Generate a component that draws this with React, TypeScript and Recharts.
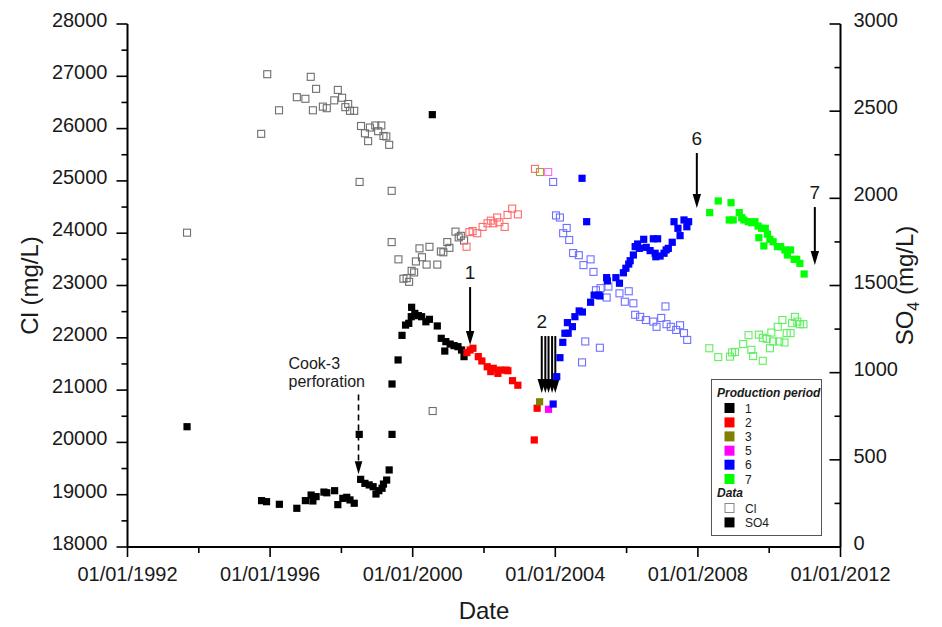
import { ScatterChart, Scatter, XAxis, YAxis, ReferenceLine, Legend } from 'recharts'

// [decimal year, value]
type Pt = [number, number]

const dateTicks = [1992, 1994, 1996, 1998, 2000, 2002, 2004, 2006, 2008, 2010, 2012]
const clTicks = [18000, 18500, 19000, 19500, 20000, 20500, 21000, 21500, 22000, 22500, 23000, 23500, 24000, 24500, 25000, 25500, 26000, 26500, 27000, 27500, 28000]
const so4Ticks = [0, 250, 500, 750, 1000, 1250, 1500, 1750, 2000, 2250, 2500, 2750, 3000]

const periods = ['1', '2', '3', '5', '6', '7']
const periodColors = ['#000000', '#ff0000', '#808000', '#ff00ff', '#0000ff', '#00ff00']
const clColors = ['#6e6e6e', '#ff6a6a', '#a0a040', '#ff66ff', '#6f6fff', '#5fef5f']

// Cl (mg/L)
const clP1: Pt[] = [
  [1993.67, 24010], [1995.75, 25900], [1995.92, 27040], [1996.25, 26350], [1996.75, 26600], [1996.99, 26570],
  [1997.14, 26990], [1997.29, 26760], [1997.2, 26350], [1997.48, 26420], [1997.59, 26390], [1997.8, 26540],
  [1997.9, 26740], [1998.02, 26590], [1998.11, 26410], [1998.19, 26470], [1998.24, 26340], [1998.36, 26340],
  [1998.51, 24980], [1998.55, 26050], [1998.66, 25910], [1998.75, 25760], [1998.8, 26020], [1998.95, 26060],
  [1999.03, 25950], [1999.12, 26060], [1999.18, 25860], [1999.26, 25850], [1999.34, 25690], [1999.41, 24810],
  [1999.41, 23830], [1999.6, 23500], [1999.74, 23130], [1999.83, 23140], [1999.9, 23070], [1999.97, 23280],
  [2000.04, 23250], [2000.09, 23460], [2000.19, 23710], [2000.26, 23540], [2000.39, 23400], [2000.47, 23740],
  [2000.56, 20600], [2000.69, 23400], [2000.79, 23650], [2000.86, 23635], [2000.97, 23830], [2001.03, 23720],
  [2001.2, 24030], [2001.29, 23920], [2001.35, 23950], [2001.44, 23860],
]
const clP2: Pt[] = [
  [2001.51, 23740], [2001.59, 24020], [2001.68, 24040], [2001.81, 24000], [2001.96, 24120], [2002.1, 24190],
  [2002.19, 24240], [2002.26, 24190], [2002.37, 24300], [2002.43, 24210], [2002.58, 24120], [2002.66, 24350],
  [2002.79, 24470], [2002.95, 24360], [2003.43, 25230],
]
const clP3: Pt[] = [[2003.57, 25170]]
const clP5: Pt[] = [[2003.8, 25170]]
const clP6: Pt[] = [
  [2003.94, 24980], [2004.02, 24340], [2004.13, 24300], [2004.32, 24100], [2004.22, 24000], [2004.39, 23870],
  [2004.5, 23620], [2004.66, 23580], [2004.79, 23390], [2004.99, 23500], [2005.07, 23260], [2005.14, 22910],
  [2005.27, 22950], [2005.49, 22980], [2005.44, 22770], [2005.8, 22850], [2005.95, 22690], [2006.06, 22890],
  [2006.19, 22660], [2006.24, 22440], [2006.38, 22400], [2006.54, 22340], [2006.75, 22310], [2006.84, 22210],
  [2006.97, 22380], [2007.09, 22600], [2007.12, 22260], [2007.24, 22210], [2007.39, 22150], [2007.5, 22240],
  [2007.61, 22090], [2007.7, 21960], [2004.84, 21930], [2005.25, 21810], [2004.75, 21530],
]
const clP7: Pt[] = [
  [2008.32, 21800], [2008.57, 21630], [2008.9, 21640], [2008.96, 21720], [2009.04, 21730], [2009.27, 21880],
  [2009.42, 22050], [2009.5, 21770], [2009.55, 21650], [2009.71, 22060], [2009.82, 22000], [2009.82, 21560],
  [2009.93, 21980], [2010.02, 21800], [2010.06, 22100], [2010.11, 21930], [2010.24, 22210], [2010.28, 21930],
  [2010.37, 22340], [2010.43, 21910], [2010.49, 22090], [2010.6, 22090], [2010.64, 22280], [2010.72, 22400],
  [2010.79, 22310], [2010.86, 22260], [2010.96, 22260],
]

// SO4 (mg/L)
const so4P1: Pt[] = [
  [1993.67, 690], [1995.76, 266], [1995.9, 260], [1996.26, 245], [1996.75, 222], [1996.99, 266], [1997.15, 298],
  [1997.2, 264], [1997.29, 289], [1997.51, 315], [1997.59, 311], [1997.81, 323], [1997.9, 243], [1998.04, 279],
  [1998.15, 285], [1998.24, 270], [1998.36, 251], [1998.5, 646], [1998.54, 388], [1998.66, 365], [1998.78, 356],
  [1998.89, 346], [1998.97, 304], [1999.05, 323], [1999.14, 337], [1999.18, 361], [1999.27, 384], [1999.34, 442],
  [1999.42, 646], [1999.42, 935], [1999.59, 1073], [1999.7, 1214], [1999.8, 1273], [1999.89, 1283], [1999.96, 1321],
  [1999.97, 1375], [2000.06, 1340], [2000.16, 1327], [2000.25, 1321], [2000.37, 1292], [2000.47, 1306],
  [2000.55, 2480], [2000.69, 1268], [2000.8, 1197], [2000.9, 1124], [2000.93, 1178], [2001.05, 1164],
  [2001.16, 1155], [2001.27, 1149], [2001.37, 1130], [2001.44, 1092],
]
const so4P2: Pt[] = [
  [2001.52, 1115], [2001.61, 1130], [2001.69, 1140], [2001.84, 1092], [2001.94, 1067], [2002.09, 1034],
  [2002.19, 1006], [2002.26, 1025], [2002.39, 996], [2002.45, 1015], [2002.62, 1015], [2002.67, 1011],
  [2002.8, 954], [2002.95, 928], [2003.49, 796], [2003.41, 614],
]
const so4P3: Pt[] = [[2003.56, 833]]
const so4P5: Pt[] = [[2003.81, 790]]
const so4P6: Pt[] = [
  [2003.94, 820], [2004.04, 977], [2004.13, 1086], [2004.21, 1174], [2004.27, 1226], [2004.36, 1226],
  [2004.34, 1287], [2004.48, 1264], [2004.55, 1321], [2004.67, 1354], [2004.76, 1348], [2004.75, 2115],
  [2004.88, 1866], [2004.99, 1404], [2005.09, 1445], [2005.21, 1444], [2005.25, 1440], [2005.44, 1545],
  [2005.46, 1526], [2005.7, 1545], [2005.8, 1513], [2005.91, 1573], [2005.98, 1599], [2006.06, 1623],
  [2006.1, 1642], [2006.19, 1675], [2006.24, 1723], [2006.31, 1738], [2006.36, 1713], [2006.48, 1765],
  [2006.55, 1719], [2006.66, 1700], [2006.8, 1685], [2006.75, 1768], [2006.87, 1768], [2006.82, 1665],
  [2006.94, 1669], [2007.05, 1685], [2007.11, 1704], [2007.17, 1713], [2007.28, 1748], [2007.33, 1866],
  [2007.44, 1828], [2007.5, 1786], [2007.61, 1876], [2007.69, 1837], [2007.74, 1866],
]
const so4P7: Pt[] = [
  [2008.33, 1918], [2008.57, 1985], [2008.93, 1975], [2008.88, 1876], [2008.99, 1876], [2009.16, 1918],
  [2009.23, 1889], [2009.29, 1876], [2009.41, 1866], [2009.51, 1860], [2009.6, 1866], [2009.69, 1841],
  [2009.79, 1828], [2009.89, 1828], [2009.95, 1795], [2009.71, 1774], [2009.85, 1727], [2010.02, 1765],
  [2010.11, 1751], [2010.23, 1723], [2010.32, 1723], [2010.44, 1704], [2010.51, 1675], [2010.6, 1704],
  [2010.7, 1650], [2010.77, 1650], [2010.86, 1627], [2010.98, 1566],
]

const clSeries = [clP1, clP2, clP3, clP5, clP6, clP7]
const so4Series = [so4P1, so4P2, so4P3, so4P5, so4P6, so4P7]

// arrows: [year, top SO4, tip SO4, label]
const arrows: [number, number, number, string][] = [
  [2001.61, 1491, 1159, '1'],
  [2003.62, 1210, 883, '2'],
  [2003.72, 1210, 883, ''],
  [2003.81, 1210, 883, ''],
  [2003.91, 1210, 883, ''],
  [2004.0, 1210, 883, ''],
  [2007.97, 2260, 1944, '6'],
  [2011.28, 1950, 1618, '7'],
]
const perforation: [number, number, number] = [1998.48, 875, 418]

const FONT = '"Liberation Sans", Arial, sans-serif'
const TEXT = '#1a1a1a'

const toRows = (pts: Pt[]) => pts.map(([date, v]) => ({ date, v }))

const openSquare = (color: string) => (p: any) => (
  <rect x={p.cx - 3.5} y={p.cy - 3.5} width={7} height={7} fill="none" stroke={color} strokeWidth={1.1} />
)
const filledSquare = (color: string) => (p: any) => (
  <rect x={p.cx - 3.6} y={p.cy - 3.6} width={7.2} height={7.2} fill={color} />
)

const arrowShape = (label: string, dashed = false) => (p: any) => {
  const { x1, y1, x2, y2 } = p
  const head = dashed ? 13 : 14
  const hw = dashed ? 3.8 : 4.2
  return (
    <g>
      <line x1={x1} y1={y1} x2={x2} y2={y2 - head + 1} stroke="#000" strokeWidth={dashed ? 1.6 : 2}
        strokeDasharray={dashed ? '6 4' : undefined} />
      <polygon points={`${x2 - hw},${y2 - head} ${x2 + hw},${y2 - head} ${x2},${y2}`} fill="#000" />
      {label && !dashed && (
        <text x={x1} y={y1 - 8} textAnchor="middle" fontSize={19} fontFamily={FONT} fill={TEXT}>{label}</text>
      )}
      {dashed && (
        <text x={x1 - 70} y={y1 - 25} fontSize={16} fontFamily={FONT} fill={TEXT}>
          <tspan x={x1 - 70}>Cook-3</tspan>
          <tspan x={x1 - 70} dy={18}>perforation</tspan>
        </text>
      )}
    </g>
  )
}

function DateTick({ x, y, payload }: any) {
  const major = (payload.value - 1992) % 4 === 0
  return (
    <g>
      <line x1={x} y1={y} x2={x} y2={y + (major ? 10 : 6)} stroke="#000" strokeWidth={1.6} />
      {major && (
        <text x={x} y={y + 34} textAnchor="middle" fontSize={20} fontFamily={FONT} fill={TEXT}>
          {`01/01/${payload.value}`}
        </text>
      )}
    </g>
  )
}

function ClTick({ x, y, payload }: any) {
  const major = payload.value % 1000 === 0
  return (
    <g>
      <line x1={x - (major ? 11 : 6)} y1={y} x2={x} y2={y} stroke="#000" strokeWidth={1.6} />
      {major && (
        <text x={x - 20} y={y + 3} textAnchor="end" fontSize={20} fontFamily={FONT} fill={TEXT}>{payload.value}</text>
      )}
    </g>
  )
}

function So4Tick({ x, y, payload }: any) {
  const major = payload.value % 500 === 0
  return (
    <g>
      <line x1={x - (major ? 11 : 6)} y1={y} x2={x} y2={y} stroke="#000" strokeWidth={1.6} />
      {major && (
        <text x={x + 13} y={y + 3} textAnchor="start" fontSize={20} fontFamily={FONT} fill={TEXT}>{payload.value}</text>
      )}
    </g>
  )
}

function LegendBox() {
  const rows = [29, 43.4, 57.4, 71.7, 85.7, 100]
  return (
    <svg width={111} height={157} style={{ display: 'block', fontFamily: FONT }}>
      <rect x={0.5} y={0.5} width={110} height={156} fill="#fff" stroke="#555" strokeWidth={1} />
      <text x={6} y={18} fontSize={12} fontWeight="bold" fontStyle="italic" fill={TEXT}>Production period</text>
      {periods.map((p, i) => (
        <g key={p}>
          <rect x={13.5} y={rows[i] - 5} width={10} height={10} fill={periodColors[i]} />
          <text x={34} y={rows[i] + 4.5} fontSize={12} fill={TEXT}>{p}</text>
        </g>
      ))}
      <text x={6} y={118} fontSize={12} fontWeight="bold" fontStyle="italic" fill={TEXT}>Data</text>
      <rect x={14} y={124.5} width={9} height={9} fill="#fff" stroke="#888" strokeWidth={1} />
      <text x={34} y={133.5} fontSize={12} fill={TEXT}>Cl</text>
      <rect x={13.5} y={138.4} width={10} height={10} fill="#000" />
      <text x={34} y={148} fontSize={12} fill={TEXT}>SO4</text>
    </svg>
  )
}

export default function App() {
  return (
    <div style={{ position: 'fixed', left: 0, top: 0, width: 942, height: 627, background: '#fff' }}>
      <ScatterChart width={942} height={627} margin={{ top: 24, right: 21.5, bottom: 20, left: 47.5 }}>
        <XAxis type="number" dataKey="date" domain={[1992, 2012]} ticks={dateTicks} interval={0}
          height={60} tickSize={0} tickMargin={0} tick={<DateTick />} stroke="#000" strokeWidth={2}
          label={(props: any) => {
            const vb = props.viewBox
            return (
              <text x={vb.x + vb.width / 2} y={619} textAnchor="middle" fontSize={24} fontFamily={FONT} fill={TEXT}>Date</text>
            )
          }} />
        <YAxis yAxisId="cl" type="number" dataKey="v" domain={[18000, 28000]} ticks={clTicks} interval={0}
          width={80} tickSize={0} tickMargin={0} tick={<ClTick />} stroke="#000" strokeWidth={2}
          label={(props: any) => {
            const vb = props.viewBox
            const cy = vb.y + vb.height / 2
            return (
              <text x={38} y={cy} transform={`rotate(-90 38 ${cy})`} textAnchor="middle" fontSize={24}
                fontFamily={FONT} fill={TEXT}>Cl (mg/L)</text>
            )
          }} />
        <YAxis yAxisId="so4" orientation="right" type="number" dataKey="v" domain={[0, 3000]} ticks={so4Ticks}
          interval={0} width={80} tickSize={0} tickMargin={0} tick={<So4Tick />} stroke="#000" strokeWidth={2}
          label={(props: any) => {
            const vb = props.viewBox
            const cy = vb.y + vb.height / 2
            return (
              <text x={913} y={cy} transform={`rotate(-90 913 ${cy})`} textAnchor="middle" fontSize={24}
                fontFamily={FONT} fill={TEXT}>
                SO<tspan fontSize={16} dy={6}>4</tspan><tspan dy={-6}> (mg/L)</tspan>
              </text>
            )
          }} />

        {clSeries.map((pts, i) => (
          <Scatter key={`cl${i}`} yAxisId="cl" data={toRows(pts)} shape={openSquare(clColors[i])}
            isAnimationActive={false} legendType="none" />
        ))}
        {so4Series.map((pts, i) => (
          <Scatter key={`so4${i}`} yAxisId="so4" data={toRows(pts)} shape={filledSquare(periodColors[i])}
            isAnimationActive={false} legendType="none" />
        ))}

        {arrows.map(([d, top, tip, label], i) => (
          <ReferenceLine key={`ar${i}`} yAxisId="so4" ifOverflow="visible"
            segment={[{ x: d, y: top }, { x: d, y: tip }]} shape={arrowShape(label)} />
        ))}
        <ReferenceLine yAxisId="so4" ifOverflow="visible"
          segment={[{ x: perforation[0], y: perforation[1] }, { x: perforation[0], y: perforation[2] }]}
          shape={arrowShape('Cook-3', true)} />

        <Legend layout="vertical" align="center" verticalAlign="middle" content={() => <LegendBox />}
          wrapperStyle={{ left: 710.7, top: 379.3, width: 111, height: 157 }} />
      </ScatterChart>
    </div>
  )
}
